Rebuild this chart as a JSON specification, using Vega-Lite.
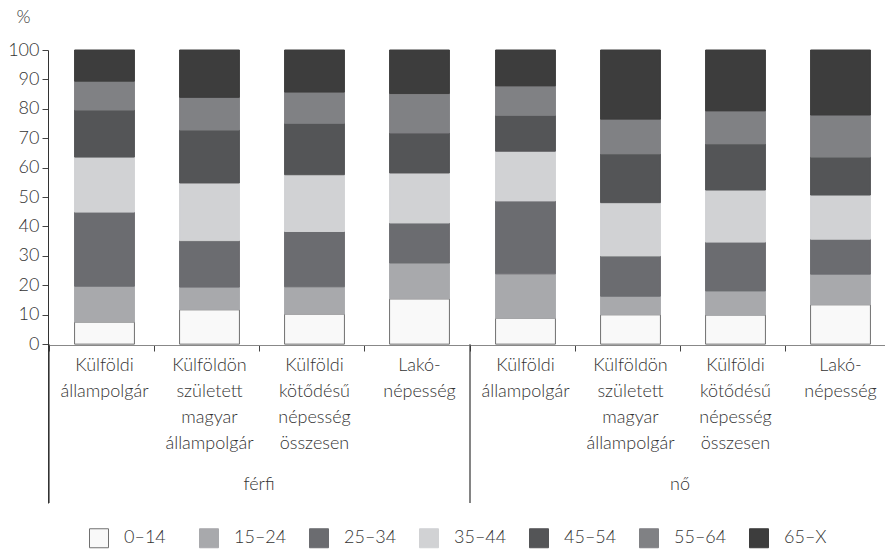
{
  "$schema": "https://vega.github.io/schema/vega-lite/v6.json",
  "padding": {"left": 7, "top": 8, "right": 0, "bottom": 0},
  "background": "white",
  "config": {
    "font": "Lato",
    "view": {"stroke": null},
    "facet": {"spacing": 0}
  },
  "spacing": 0,
  "data": {
    "values": [
      {"sex": "férfi", "cat": "Külföldi állampolgár", "age": "0–14", "value": 7.5},
      {"sex": "férfi", "cat": "Külföldi állampolgár", "age": "15–24", "value": 12.2},
      {"sex": "férfi", "cat": "Külföldi állampolgár", "age": "25–34", "value": 25.2},
      {"sex": "férfi", "cat": "Külföldi állampolgár", "age": "35–44", "value": 18.7},
      {"sex": "férfi", "cat": "Külföldi állampolgár", "age": "45–54", "value": 16.0},
      {"sex": "férfi", "cat": "Külföldi állampolgár", "age": "55–64", "value": 9.8},
      {"sex": "férfi", "cat": "Külföldi állampolgár", "age": "65–X", "value": 10.6},
      {"sex": "férfi", "cat": "Külföldön született magyar állampolgár", "age": "0–14", "value": 11.7},
      {"sex": "férfi", "cat": "Külföldön született magyar állampolgár", "age": "15–24", "value": 7.7},
      {"sex": "férfi", "cat": "Külföldön született magyar állampolgár", "age": "25–34", "value": 15.8},
      {"sex": "férfi", "cat": "Külföldön született magyar állampolgár", "age": "35–44", "value": 19.6},
      {"sex": "férfi", "cat": "Külföldön született magyar állampolgár", "age": "45–54", "value": 18.0},
      {"sex": "férfi", "cat": "Külföldön született magyar állampolgár", "age": "55–64", "value": 11.1},
      {"sex": "férfi", "cat": "Külföldön született magyar állampolgár", "age": "65–X", "value": 16.1},
      {"sex": "férfi", "cat": "Külföldi kötődésű népesség összesen", "age": "0–14", "value": 10.2},
      {"sex": "férfi", "cat": "Külföldi kötődésű népesség összesen", "age": "15–24", "value": 9.3},
      {"sex": "férfi", "cat": "Külföldi kötődésű népesség összesen", "age": "25–34", "value": 18.8},
      {"sex": "férfi", "cat": "Külföldi kötődésű népesség összesen", "age": "35–44", "value": 19.3},
      {"sex": "férfi", "cat": "Külföldi kötődésű népesség összesen", "age": "45–54", "value": 17.5},
      {"sex": "férfi", "cat": "Külföldi kötődésű népesség összesen", "age": "55–64", "value": 10.6},
      {"sex": "férfi", "cat": "Külföldi kötődésű népesség összesen", "age": "65–X", "value": 14.3},
      {"sex": "férfi", "cat": "Lakónépesség", "age": "0–14", "value": 15.4},
      {"sex": "férfi", "cat": "Lakónépesség", "age": "15–24", "value": 12.2},
      {"sex": "férfi", "cat": "Lakónépesség", "age": "25–34", "value": 13.6},
      {"sex": "férfi", "cat": "Lakónépesség", "age": "35–44", "value": 17.0},
      {"sex": "férfi", "cat": "Lakónépesség", "age": "45–54", "value": 13.6},
      {"sex": "férfi", "cat": "Lakónépesség", "age": "55–64", "value": 13.4},
      {"sex": "férfi", "cat": "Lakónépesség", "age": "65–X", "value": 14.8},
      {"sex": "nő", "cat": "Külföldi állampolgár", "age": "0–14", "value": 8.8},
      {"sex": "nő", "cat": "Külföldi állampolgár", "age": "15–24", "value": 15.1},
      {"sex": "nő", "cat": "Külföldi állampolgár", "age": "25–34", "value": 24.8},
      {"sex": "nő", "cat": "Külföldi állampolgár", "age": "35–44", "value": 16.9},
      {"sex": "nő", "cat": "Külföldi állampolgár", "age": "45–54", "value": 12.2},
      {"sex": "nő", "cat": "Külföldi állampolgár", "age": "55–64", "value": 10.0},
      {"sex": "nő", "cat": "Külföldi állampolgár", "age": "65–X", "value": 12.2},
      {"sex": "nő", "cat": "Külföldön született magyar állampolgár", "age": "0–14", "value": 10.0},
      {"sex": "nő", "cat": "Külföldön született magyar állampolgár", "age": "15–24", "value": 6.3},
      {"sex": "nő", "cat": "Külföldön született magyar állampolgár", "age": "25–34", "value": 13.7},
      {"sex": "nő", "cat": "Külföldön született magyar állampolgár", "age": "35–44", "value": 18.1},
      {"sex": "nő", "cat": "Külföldön született magyar állampolgár", "age": "45–54", "value": 16.6},
      {"sex": "nő", "cat": "Külföldön született magyar állampolgár", "age": "55–64", "value": 11.8},
      {"sex": "nő", "cat": "Külföldön született magyar állampolgár", "age": "65–X", "value": 23.5},
      {"sex": "nő", "cat": "Külföldi kötődésű népesség összesen", "age": "0–14", "value": 9.9},
      {"sex": "nő", "cat": "Külföldi kötődésű népesség összesen", "age": "15–24", "value": 8.2},
      {"sex": "nő", "cat": "Külföldi kötődésű népesség összesen", "age": "25–34", "value": 16.6},
      {"sex": "nő", "cat": "Külföldi kötődésű népesség összesen", "age": "35–44", "value": 17.7},
      {"sex": "nő", "cat": "Külföldi kötődésű népesség összesen", "age": "45–54", "value": 15.7},
      {"sex": "nő", "cat": "Külföldi kötődésű népesség összesen", "age": "55–64", "value": 11.2},
      {"sex": "nő", "cat": "Külföldi kötődésű népesség összesen", "age": "65–X", "value": 20.7},
      {"sex": "nő", "cat": "Lakónépesség", "age": "0–14", "value": 13.4},
      {"sex": "nő", "cat": "Lakónépesség", "age": "15–24", "value": 10.4},
      {"sex": "nő", "cat": "Lakónépesség", "age": "25–34", "value": 11.9},
      {"sex": "nő", "cat": "Lakónépesség", "age": "35–44", "value": 15.0},
      {"sex": "nő", "cat": "Lakónépesség", "age": "45–54", "value": 12.9},
      {"sex": "nő", "cat": "Lakónépesség", "age": "55–64", "value": 14.3},
      {"sex": "nő", "cat": "Lakónépesség", "age": "65–X", "value": 22.1}
    ]
  },
  "facet": {
    "column": {
      "field": "sex",
      "type": "nominal",
      "sort": ["férfi", "nő"],
      "header": {
        "title": null,
        "labelOrient": "bottom",
        "labelFontSize": 18,
        "labelFontWeight": 300,
        "labelColor": "#333333",
        "labelBaseline": "top",
        "labelPadding": -28
      }
    }
  },
  "spec": {
    "width": 420,
    "height": 453,
    "layer": [
      {
        "mark": {"type": "bar", "width": {"band": 0.57}, "xOffset": 3, "strokeWidth": 1},
        "encoding": {
          "x": {
            "field": "cat",
            "type": "nominal",
            "sort": ["Külföldi állampolgár", "Külföldön született magyar állampolgár", "Külföldi kötődésű népesség összesen", "Lakónépesség"],
            "scale": {"paddingInner": 0, "paddingOuter": 0},
            "axis": {
              "title": null,
              "offset": -159,
              "bandPosition": 0,
              "tickSize": 6,
              "tickColor": "#444444",
              "domainColor": "#888888",
              "labelAngle": 0,
              "labelFontSize": 18,
              "labelFontWeight": 300,
              "labelLineHeight": 26,
              "labelPadding": 5,
              "labelOffset": 3,
              "labelColor": "#333333",
              "labelExpr": "datum.value === 'Külföldi állampolgár' ? ['Külföldi','állampolgár'] : datum.value === 'Külföldön született magyar állampolgár' ? ['Külföldön','született','magyar','állampolgár'] : datum.value === 'Külföldi kötődésű népesség összesen' ? ['Külföldi','kötődésű','népesség','összesen'] : ['Lakó-','népesség']"
            }
          },
          "y": {
            "field": "value",
            "type": "quantitative",
            "stack": "zero",
            "scale": {"domain": [-54, 100], "nice": false, "zero": false},
            "axis": {
              "title": "%",
              "titleAngle": 0,
              "titleAlign": "center",
              "titleBaseline": "middle",
              "titleX": -25,
              "titleY": -33,
              "titleFontSize": 18,
              "titleFontWeight": 300,
              "titleColor": "#333333",
              "values": [0, 10, 20, 30, 40, 50, 60, 70, 80, 90, 100],
              "labelOverlap": false,
              "grid": false,
              "tickSize": 6,
              "tickColor": "#444444",
              "domainColor": "#333333",
              "labelFontSize": 18,
              "labelFontWeight": 300,
              "labelColor": "#333333",
              "labelPadding": 3
            }
          },
          "color": {
            "field": "age",
            "type": "nominal",
            "scale": {
              "domain": ["0–14", "15–24", "25–34", "35–44", "45–54", "55–64", "65–X"],
              "range": ["#f9f9f9", "#a8a9ac", "#6b6c70", "#d1d2d4", "#545557", "#808184", "#3d3d3d"]
            },
            "legend": {
              "title": null,
              "orient": "none",
              "legendX": 40,
              "legendY": 478,
              "direction": "horizontal",
              "symbolType": "square",
              "symbolSize": 361,
              "symbolStrokeWidth": 1,
              "labelFontSize": 18,
              "labelFontWeight": 300,
              "labelColor": "#333333",
              "labelOffset": 15,
              "gridAlign": "all",
              "columnPadding": 20
            }
          },
          "stroke": {
            "field": "age",
            "type": "nominal",
            "scale": {
              "domain": ["0–14", "15–24", "25–34", "35–44", "45–54", "55–64", "65–X"],
              "range": ["#707070", "#a8a9ac", "#6b6c70", "#d1d2d4", "#545557", "#808184", "#3d3d3d"]
            },
            "legend": {
              "title": null,
              "orient": "none",
              "legendX": 40,
              "legendY": 478,
              "direction": "horizontal",
              "symbolType": "square",
              "symbolSize": 361,
              "symbolStrokeWidth": 1,
              "labelFontSize": 18,
              "labelFontWeight": 300,
              "labelColor": "#333333",
              "labelOffset": 15,
              "gridAlign": "all",
              "columnPadding": 20
            }
          },
          "order": {"field": "age", "sort": "ascending"}
        }
      },
      {
        "transform": [{"filter": "datum.age === '0–14' && datum.cat === 'Külföldi állampolgár'"}],
        "mark": {"type": "rule", "color": "#333333", "strokeWidth": 1.2},
        "encoding": {
          "x": {
            "field": "cat",
            "type": "nominal",
            "bandPosition": 0,
            "sort": ["Külföldi állampolgár", "Külföldön született magyar állampolgár", "Külföldi kötődésű népesség összesen", "Lakónépesség"]
          },
          "y": {"datum": 0},
          "y2": {"datum": -54}
        }
      }
    ]
  }
}
